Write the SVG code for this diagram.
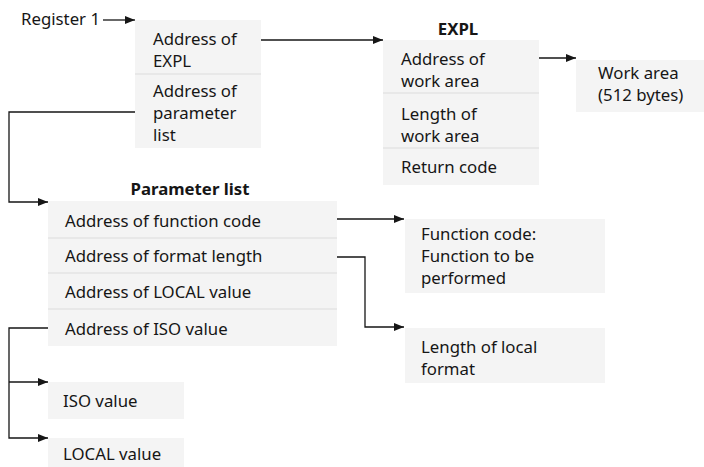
<svg xmlns="http://www.w3.org/2000/svg" width="704" height="467" viewBox="0 0 704 467">
<style>
text{font-family:"Noto Sans","Liberation Sans",sans-serif;font-size:16.8px;fill:#161616}
.t{font-weight:bold;text-anchor:middle}
.box{fill:#f4f4f4}
.div{stroke:#dcdcdc;stroke-width:1.2}
.c{fill:none;stroke:#161616;stroke-width:1.3}
</style>
<defs>
<marker id="a" viewBox="0 0 10 8" refX="10" refY="4" markerWidth="10" markerHeight="8" markerUnits="userSpaceOnUse" orient="auto"><path d="M0,0L10,4L0,8Z" fill="#161616"/></marker>
</defs>
<g id="register1">
<text x="21" y="25">Register 1</text>
</g>
<g id="regblock">
<rect class="box" x="135" y="20" width="126" height="128"/>
<line class="div" x1="135" y1="74" x2="261" y2="74"/>
<text x="153" y="45">Address of</text>
<text x="153" y="67">EXPL</text>
<text x="153" y="97">Address of</text>
<text x="153" y="119">parameter</text>
<text x="153" y="141">list</text>
</g>
<g id="expl">
<text class="t" x="458" y="35">EXPL</text>
<rect class="box" x="383" y="40" width="156" height="145"/>
<line class="div" x1="383" y1="93" x2="539" y2="93"/>
<line class="div" x1="383" y1="148" x2="539" y2="148"/>
<text x="401" y="65">Address of</text>
<text x="401" y="87">work area</text>
<text x="401" y="120">Length of</text>
<text x="401" y="142">work area</text>
<text x="401" y="173">Return code</text>
</g>
<g id="workarea">
<rect class="box" x="576" y="60" width="128" height="52"/>
<text x="598" y="79">Work area</text>
<text x="598" y="101">(512 bytes)</text>
</g>
<g id="paramlist">
<text class="t" x="190" y="195">Parameter list</text>
<rect class="box" x="48" y="201" width="289" height="145"/>
<line class="div" x1="48" y1="238" x2="337" y2="238"/>
<line class="div" x1="48" y1="273" x2="337" y2="273"/>
<line class="div" x1="48" y1="309" x2="337" y2="309"/>
<text x="65" y="227">Address of function code</text>
<text x="65" y="262">Address of format length</text>
<text x="65" y="298">Address of LOCAL value</text>
<text x="65" y="335">Address of ISO value</text>
</g>
<g id="funccode">
<rect class="box" x="405" y="219" width="200" height="74"/>
<text x="421" y="240">Function code:</text>
<text x="421" y="262">Function to be</text>
<text x="421" y="284">performed</text>
</g>
<g id="lenlocal">
<rect class="box" x="405" y="328" width="200" height="55"/>
<text x="421" y="353">Length of local</text>
<text x="421" y="375">format</text>
</g>
<g id="isovalue">
<rect class="box" x="48" y="382" width="136" height="37"/>
<text x="63" y="407">ISO value</text>
</g>
<g id="localvalue">
<rect class="box" x="48" y="438" width="136" height="29"/>
<text x="63" y="460">LOCAL value</text>
</g>
<g id="connectors">
<path class="c" d="M103,20H135" marker-end="url(#a)"/>
<path class="c" d="M261,40H383" marker-end="url(#a)"/>
<path class="c" d="M539,58H576" marker-end="url(#a)"/>
<path class="c" d="M135,112H9V202H48" marker-end="url(#a)"/>
<path class="c" d="M337,219H404" marker-end="url(#a)"/>
<path class="c" d="M337,257H365V327H404" marker-end="url(#a)"/>
<path class="c" d="M48,328H9V438H48" marker-end="url(#a)"/>
<path class="c" d="M9,382H48" marker-end="url(#a)"/>
</g>
</svg>
